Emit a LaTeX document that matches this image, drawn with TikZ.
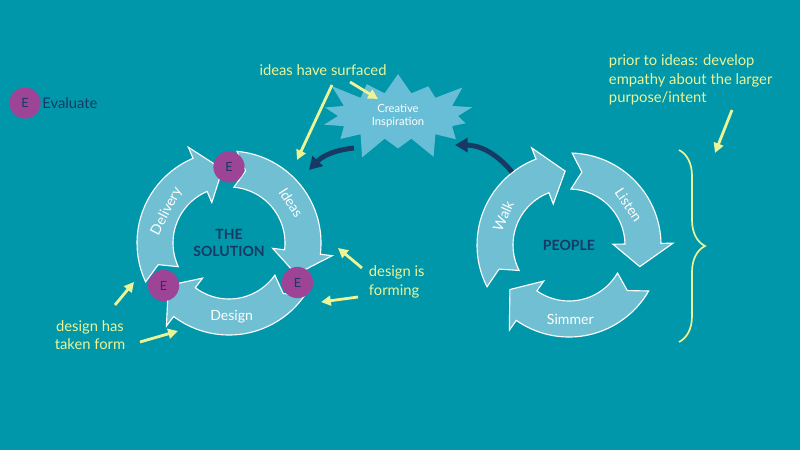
\documentclass[tikz,border=0pt]{standalone}
\usepackage{fontspec}
\setmainfont{Lato}
\usetikzlibrary{positioning, arrows.meta, calc, shapes.symbols, decorations.pathreplacing}
\definecolor{bgteal}{RGB}{0,151,170}
\definecolor{ringfill}{RGB}{112,191,210}
\definecolor{burstfill}{RGB}{104,190,214}
\definecolor{evalpurple}{RGB}{158,68,150}
\definecolor{navy}{RGB}{22,58,100}
\definecolor{noteyellow}{RGB}{236,244,150}

\begin{document}
\begin{tikzpicture}[
    x=0.025cm, y=0.025cm,
    ring/.style={fill=ringfill, draw=white, line width=0.8pt},
    pics/ringarrow/.style n args={2}{code={
        \path[ring] (#1:92) arc[start angle=#1, end angle=#2+18, radius=92]
            -- (#2+18:104) -- (#2:74) -- (#2+18:44) -- (#2+18:56)
            arc[start angle=#2+18, end angle=#1, radius=56]
            -- (#1-8:74) -- cycle;
    }},
    ringlabel/.style={font=\fontsize{10}{12}\selectfont, text=white},
    hub/.style={font=\fontsize{10}{12}\selectfont\bfseries, text=navy, align=center},
    evalE/.style={circle, fill=evalpurple, minimum size=0.78cm, inner sep=0pt,
        font=\fontsize{9}{11}\selectfont, text=navy},
    burst/.style={starburst, starburst points=14, starburst point height=0.65cm,
        fill=burstfill, minimum width=4.3cm, minimum height=2.1cm,
        font=\fontsize{8}{9.5}\selectfont, text=white, align=center},
    note/.style={font=\fontsize{10.5}{13}\selectfont, text=noteyellow, align=left},
    pointer/.style={-{Triangle[length=7pt, width=7pt]}, line width=2pt, draw=noteyellow},
    flow/.style={-{Triangle[length=9pt, width=10pt]}, line width=3.5pt, draw=navy},
    notebrace/.style={decorate, decoration={brace, amplitude=0.65cm}, line width=1.2pt, draw=noteyellow}
]

% background
\fill[bgteal] (0,0) rectangle (800,450);
\useasboundingbox (0,0) rectangle (800,450);

% legend
\node[evalE] (legE) at (25,347) {E};
\node[font=\fontsize{10.5}{13}\selectfont, text=navy, right=0.03cm of legE, inner sep=0pt] (legtxt) {Evaluate};

% === The solution cycle ===
\coordinate (sol) at (229,207);
\pic at (sol) {ringarrow={85}{-25}};
\pic at (sol) {ringarrow={-35}{-145}};
\pic at (sol) {ringarrow={205}{95}};
\node[ringlabel, rotate=-57] (ideas) at ($(sol)+(33:74)$) {Ideas};
\node[ringlabel] (design) at ($(sol)+(-88:74)$) {Design};
\node[ringlabel, rotate=63] (delivery) at ($(sol)+(153:70)$) {Delivery};
\node[hub] (solution) at (sol) {THE\\SOLUTION};
\node[evalE] (evtop) at ($(sol)+(90:76)$) {E};
\node[evalE] (evright) at ($(sol)+(-30:79)$) {E};
\node[evalE] (evleft) at ($(sol)+(213:78)$) {E};

% === The people cycle ===
\coordinate (ppl) at (569,205);
\pic at (ppl) {ringarrow={207}{93}};
\pic at (ppl) {ringarrow={88}{-17}};
\pic at (ppl) {ringarrow={-30}{-143}};
\node[ringlabel, rotate=66] (walk) at ($(ppl)+(156:72)$) {Walk};
\node[ringlabel, rotate=-56] (listen) at ($(ppl)+(34:72)$) {Listen};
\node[ringlabel] (simmer) at ($(ppl)+(-89:74)$) {Simmer};
\node[hub] (people) at (ppl) {PEOPLE};

% === Creative inspiration ===
\node[burst] (insp) at (398,334) {Creative\\Inspiration};
\coordinate (solin) at (309,280);
\coordinate (pplout) at (512,278);
\draw[flow] ($(insp)+(-44,-32)$) to[bend right=20] (solin);
\draw[flow] (pplout) to[bend right=25] ($(insp)+(57,-29)$);

% === Notes ===
\node[note] (surfaced) at (323,380) {ideas have surfaced};
\coordinate (surfA) at (332,365);
\coordinate (surfAend) at (297,290);
\coordinate (surfB) at (350,368);
\coordinate (surfBend) at (378,351);
\draw[pointer] (surfA) -- (surfAend);
\draw[pointer] (surfB) -- (surfBend);

\node[note, anchor=west] (forming) at (364,168) {design is\\forming};
\coordinate (formA) at (362,182);
\coordinate (formAend) at (338,202);
\coordinate (formB) at (358,153);
\coordinate (formBend) at (321,148);
\draw[pointer] (formA) -- (formAend);
\draw[pointer] (formB) -- (formBend);

\node[note, align=center] (taken) at (90,115) {design has\\taken form};
\coordinate (takenA) at (115,145);
\coordinate (takenAend) at (134,168);
\coordinate (takenB) at (140,108);
\coordinate (takenBend) at (178,119);
\draw[pointer] (takenA) -- (takenAend);
\draw[pointer] (takenB) -- (takenBend);

\node[note, anchor=north west] (prior) at (604,400) {prior to ideas: develop\\empathy about the larger\\purpose/intent};
\coordinate (priorA) at (732,340);
\coordinate (priorAend) at (715,297);
\draw[pointer] (priorA) -- (priorAend);

% brace round the people cycle
\coordinate (brtop) at (679,300);
\coordinate (brbot) at (679,108);
\draw[notebrace] (brtop) -- (brbot);

\end{tikzpicture}
\end{document}
